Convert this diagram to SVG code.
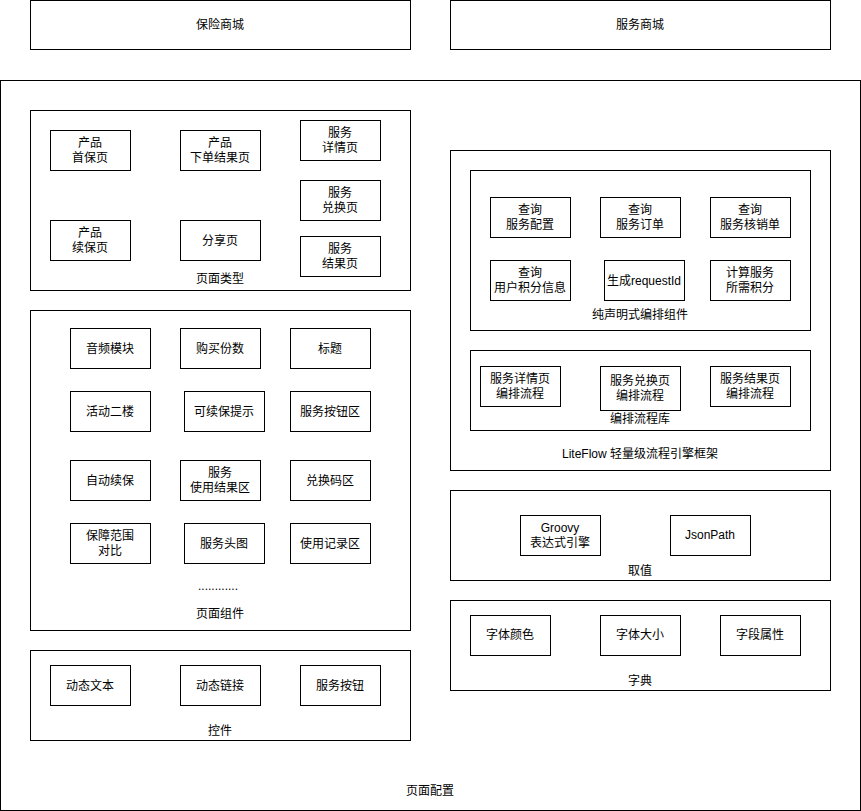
<svg xmlns="http://www.w3.org/2000/svg" width="861" height="811" viewBox="0 0 861 811">
<style>
rect{fill:#fff;stroke:#000;stroke-width:1}
text{font-family:"Liberation Sans","Noto Sans CJK SC",sans-serif;font-size:12px;fill:#000;text-anchor:middle}
</style>
<rect x="0" y="0" width="861" height="811" style="stroke:none"/>
<g id="mall-insurance"><rect x="30.5" y="0.5" width="380" height="49"/><text x="220" y="29">保险商城</text></g>
<g id="mall-service"><rect x="450.5" y="0.5" width="380" height="49"/><text x="640" y="29">服务商城</text></g>
<g id="page-config"><rect x="0.5" y="80.5" width="860" height="730"/><text x="430" y="795">页面配置</text></g>

<g id="page-types"><rect x="30.5" y="110.5" width="380" height="180"/><text x="220" y="283">页面类型</text></g>
<g id="pt1"><rect x="50.5" y="130.5" width="80" height="40"/><text x="90" y="147">产品</text><text x="90" y="162">首保页</text></g>
<g id="pt2"><rect x="180.5" y="130.5" width="80" height="40"/><text x="220" y="147">产品</text><text x="220" y="162">下单结果页</text></g>
<g id="pt3"><rect x="300.5" y="120.5" width="80" height="40"/><text x="340" y="137">服务</text><text x="340" y="152">详情页</text></g>
<g id="pt4"><rect x="300.5" y="180.5" width="80" height="40"/><text x="340" y="197">服务</text><text x="340" y="212">兑换页</text></g>
<g id="pt5"><rect x="300.5" y="236.5" width="80" height="40"/><text x="340" y="253">服务</text><text x="340" y="268">结果页</text></g>
<g id="pt6"><rect x="50.5" y="220.5" width="80" height="40"/><text x="90" y="237">产品</text><text x="90" y="252">续保页</text></g>
<g id="pt7"><rect x="180.5" y="220.5" width="80" height="40"/><text x="220" y="245">分享页</text></g>

<g id="page-components"><rect x="30.5" y="310.5" width="380" height="320"/><text x="220" y="618">页面组件</text><text x="218" y="590">............</text></g>
<g id="pc1"><rect x="70.5" y="328.5" width="80" height="40"/><text x="110" y="353">音频模块</text></g>
<g id="pc2"><rect x="180.5" y="328.5" width="80" height="40"/><text x="220" y="353">购买份数</text></g>
<g id="pc3"><rect x="290.5" y="328.5" width="80" height="40"/><text x="330" y="353">标题</text></g>
<g id="pc4"><rect x="70.5" y="391.5" width="80" height="40"/><text x="110" y="416">活动二楼</text></g>
<g id="pc5"><rect x="184.5" y="391.5" width="80" height="40"/><text x="224" y="416">可续保提示</text></g>
<g id="pc6"><rect x="290.5" y="391.5" width="80" height="40"/><text x="330" y="416">服务按钮区</text></g>
<g id="pc7"><rect x="70.5" y="460.5" width="80" height="40"/><text x="110" y="485">自动续保</text></g>
<g id="pc8"><rect x="180.5" y="460.5" width="80" height="40"/><text x="220" y="477">服务</text><text x="220" y="492">使用结果区</text></g>
<g id="pc9"><rect x="290.5" y="460.5" width="80" height="40"/><text x="330" y="485">兑换码区</text></g>
<g id="pc10"><rect x="70.5" y="523.5" width="80" height="40"/><text x="110" y="540">保障范围</text><text x="110" y="555">对比</text></g>
<g id="pc11"><rect x="184.5" y="523.5" width="80" height="40"/><text x="224" y="548">服务头图</text></g>
<g id="pc12"><rect x="290.5" y="523.5" width="80" height="40"/><text x="330" y="548">使用记录区</text></g>

<g id="controls"><rect x="30.5" y="650.5" width="380" height="90"/><text x="220" y="735">控件</text></g>
<g id="c1"><rect x="50.5" y="665.5" width="80" height="40"/><text x="90" y="690">动态文本</text></g>
<g id="c2"><rect x="180.5" y="665.5" width="80" height="40"/><text x="220" y="690">动态链接</text></g>
<g id="c3"><rect x="300.5" y="665.5" width="80" height="40"/><text x="340" y="690">服务按钮</text></g>

<g id="liteflow"><rect x="450.5" y="150.5" width="380" height="320"/><text x="640" y="458">LiteFlow 轻量级流程引擎框架</text></g>
<g id="declarative"><rect x="470.5" y="170.5" width="340" height="160"/><text x="640" y="319">纯声明式编排组件</text></g>
<g id="d1"><rect x="490.5" y="197.5" width="80" height="40"/><text x="530" y="214">查询</text><text x="530" y="229">服务配置</text></g>
<g id="d2"><rect x="600.5" y="197.5" width="80" height="40"/><text x="640" y="214">查询</text><text x="640" y="229">服务订单</text></g>
<g id="d3"><rect x="710.5" y="197.5" width="80" height="40"/><text x="750" y="214">查询</text><text x="750" y="229">服务核销单</text></g>
<g id="d4"><rect x="490.5" y="260.5" width="80" height="40"/><text x="530" y="277">查询</text><text x="530" y="292">用户积分信息</text></g>
<g id="d5"><rect x="604.5" y="260.5" width="80" height="40"/><text x="644" y="285">生成requestId</text></g>
<g id="d6"><rect x="710.5" y="260.5" width="80" height="40"/><text x="750" y="277">计算服务</text><text x="750" y="292">所需积分</text></g>
<g id="flowlib"><rect x="470.5" y="350.5" width="340" height="80"/><text x="640" y="423">编排流程库</text></g>
<g id="f1"><rect x="480.5" y="366.5" width="80" height="40"/><text x="520" y="383">服务详情页</text><text x="520" y="398">编排流程</text></g>
<g id="f2"><rect x="600.5" y="366.5" width="80" height="44"/><text x="640" y="385">服务兑换页</text><text x="640" y="400">编排流程</text></g>
<g id="f3"><rect x="710.5" y="366.5" width="80" height="40"/><text x="750" y="383">服务结果页</text><text x="750" y="398">编排流程</text></g>

<g id="getvalue"><rect x="450.5" y="490.5" width="380" height="90"/><text x="640" y="575">取值</text></g>
<g id="g1"><rect x="520.5" y="515.5" width="80" height="40"/><text x="560" y="532">Groovy</text><text x="560" y="547">表达式引擎</text></g>
<g id="g2"><rect x="670.5" y="515.5" width="80" height="40"/><text x="710" y="539">JsonPath</text></g>

<g id="dict"><rect x="450.5" y="600.5" width="380" height="90"/><text x="640" y="685">字典</text></g>
<g id="k1"><rect x="470.5" y="615.5" width="80" height="40"/><text x="510" y="639">字体颜色</text></g>
<g id="k2"><rect x="600.5" y="615.5" width="80" height="40"/><text x="640" y="639">字体大小</text></g>
<g id="k3"><rect x="720.5" y="615.5" width="80" height="40"/><text x="760" y="639">字段属性</text></g>
<g id="connectors"></g>
</svg>
